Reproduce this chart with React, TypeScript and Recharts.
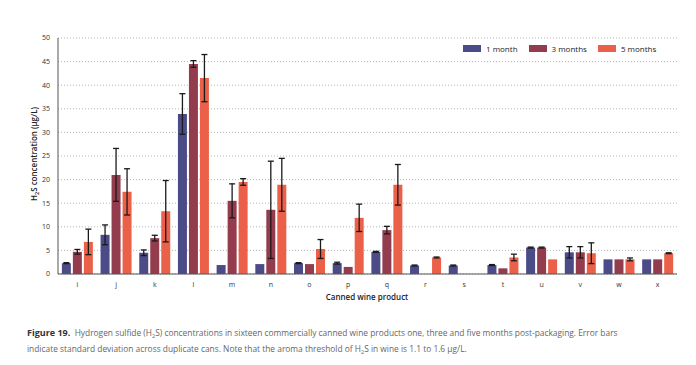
import { Bar, BarChart, CartesianGrid, ErrorBar, Legend, XAxis, YAxis } from "recharts";

const products = ["i", "j", "k", "l", "m", "n", "o", "p", "q", "r", "s", "t", "u", "v", "w", "x"];

// mean H2S (µg/L) and SD
const oneMonth = [2.3, 8.3, 4.5, 33.9, 1.9, 2.1, 2.3, 2.3, 4.7, 1.8, 1.8, 1.9, 5.6, 4.6, 3.1, 3.1];
const oneMonthSd = [0.1, 2.1, 0.6, 4.3, 0, 0, 0.1, 0.2, 0.1, 0.1, 0.1, 0.1, 0.1, 1.2, 0, 0];
const threeMonths = [4.7, 21.0, 7.6, 44.5, 15.5, 13.6, 2.1, 1.5, 9.3, 0, 0, 1.2, 5.6, 4.6, 3.1, 3.1];
const threeMonthsSd = [0.5, 5.6, 0.6, 0.7, 3.6, 10.3, 0, 0, 0.8, 0, 0, 0, 0.1, 1.2, 0, 0];
const fiveMonths = [6.8, 17.4, 13.3, 41.5, 19.5, 18.9, 5.3, 11.9, 18.9, 3.5, 0, 3.5, 3.1, 4.4, 3.1, 4.4];
const fiveMonthsSd = [2.7, 4.9, 6.5, 5.0, 0.7, 5.6, 2.0, 2.9, 4.3, 0.1, 0, 0.7, 0, 2.2, 0.3, 0.1];

const yTicks = [0, 5, 10, 15, 20, 25, 30, 35, 40, 45, 50];

const series = [
  { key: "one", sd: "oneSd", name: "1 month", color: "#4b4b88" },
  { key: "three", sd: "threeSd", name: "3 months", color: "#923c4e" },
  { key: "five", sd: "fiveSd", name: "5 months", color: "#ea6049" },
];

const data = products.map((p, i) => ({
  product: p,
  one: oneMonth[i],
  oneSd: oneMonthSd[i],
  three: threeMonths[i],
  threeSd: threeMonthsSd[i],
  five: fiveMonths[i],
  fiveSd: fiveMonthsSd[i],
}));

const font = "'Open Sans', sans-serif";

function LegendBox() {
  return (
    <div style={{ display: "flex", alignItems: "center", fontFamily: font, fontSize: 8, color: "#222" }}>
      {series.map((s) => (
        <div key={s.key} style={{ display: "flex", alignItems: "center", marginRight: 11 }}>
          <span style={{ display: "inline-block", width: 18, height: 7, background: s.color, marginRight: 5 }} />
          <span>{s.name}</span>
        </div>
      ))}
    </div>
  );
}

function YTitle() {
  return (
    <text
      transform="translate(37,154) rotate(-90)"
      textAnchor="middle"
      fontFamily={font}
      fontSize={8}
      fontWeight={600}
      fill="#222"
    >
      H<tspan dy={2} fontSize={5.5}>2</tspan>
      <tspan dy={-2}>S concentration (μg/L)</tspan>
    </text>
  );
}

function XTitle() {
  return (
    <text x={367} y={300} textAnchor="middle" fontFamily={font} fontSize={8} fontWeight={600} fill="#222">
      Canned wine product
    </text>
  );
}

const sub = { fontSize: 5.5, position: "relative" as const, top: 2, lineHeight: 0 };

export default function App() {
  return (
    <div style={{ position: "absolute", left: 0, top: 0, width: 696, height: 365, background: "#fff" }}>
      <BarChart
        width={696}
        height={310}
        data={data}
        margin={{ top: 38, right: 19, bottom: 6, left: 38 }}
        barCategoryGap="10%"
        barGap={2}
      >
        <CartesianGrid vertical={false} stroke="#b5b5b5" strokeDasharray="1 2" />
        <XAxis
          dataKey="product"
          height={30}
          tickLine={false}
          axisLine={{ stroke: "#555" }}
          tick={{ fontSize: 7, fill: "#333", fontFamily: font }}
          label={<XTitle />}
        />
        <YAxis
          width={20}
          domain={[0, 50]}
          ticks={yTicks}
          tickLine={false}
          axisLine={{ stroke: "#555" }}
          tick={{ fontSize: 7, fill: "#333", fontFamily: font }}
          label={<YTitle />}
        />
        <Legend
          layout="horizontal"
          verticalAlign="middle"
          align="center"
          content={<LegendBox />}
          wrapperStyle={{ top: 43, left: 463, width: 230, height: 12 }}
        />
        {series.map((s) => (
          <Bar key={s.key} dataKey={s.key} name={s.name} fill={s.color} isAnimationActive={false}>
            <ErrorBar dataKey={s.sd} width={3} strokeWidth={1.3} stroke="#1a1a1a" direction="y" />
          </Bar>
        ))}
      </BarChart>
      <div
        style={{
          position: "absolute",
          left: 27,
          top: 325,
          fontFamily: font,
          fontSize: 8.4,
          lineHeight: "16px",
          color: "#666",
          whiteSpace: "nowrap",
        }}
      >
        <div style={{ height: 16 }}>
          <b style={{ color: "#333", fontSize: 9 }}>Figure 19.</b>&nbsp; Hydrogen sulfide (H<span style={sub}>2</span>S) concentrations in sixteen commercially canned wine products one, three and five months post-packaging. Error bars
        </div>
        <div style={{ height: 16 }}>
          indicate standard deviation across duplicate cans. Note that the aroma threshold of H<span style={sub}>2</span>S in wine is 1.1 to 1.6 μg/L.
        </div>
      </div>
    </div>
  );
}
